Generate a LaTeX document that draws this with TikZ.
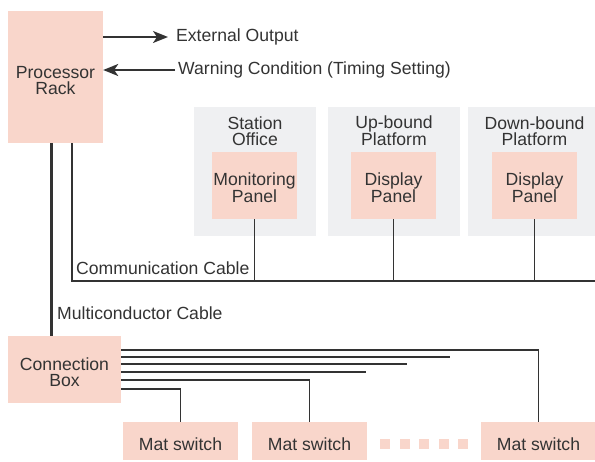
\documentclass[tikz,border=0pt]{standalone}
\usepackage{fontspec}
\setmainfont{Liberation Sans}
\usetikzlibrary{positioning,arrows.meta,calc}
\definecolor{boxpink}{HTML}{F9D6CB}
\definecolor{roomgray}{HTML}{EFF0F2}
\definecolor{wire}{HTML}{333333}
\tikzset{
    % standard arrow tip
    >={Stealth[length=15pt,width=12pt,inset=4pt]},
    % pink equipment box
    unit/.style={
           rectangle,
           fill=boxpink,
           text=wire,
           align=center,
           inner sep=0pt,
           font=\fontsize{17.6}{16}\selectfont,},
    % two lines, set a little low
    twoline/.style={
           text height=34pt,
           text depth=0pt,},
    % gray room box
    room/.style={
           rectangle,
           fill=roomgray,
           inner sep=0pt,},
    % cable
    cable/.style={
           draw=wire,
           line width=1.8pt,},
    % free text
    txt/.style={
           text=wire,
           align=center,
           inner sep=0pt,
           font=\fontsize{17.6}{16}\selectfont,}
}

\begin{document}
\begin{tikzpicture}[x=1pt, y=-1pt]

\useasboundingbox (0,0) rectangle (595,461);

% rooms
\node [room, minimum width=122, minimum height=129] (office) at (255,171.5) {};
\node [room, minimum width=132, minimum height=129] (up)     at (394,171.5) {};
\node [room, minimum width=133, minimum height=129] (down)   at (534.5,171.5) {};

\node [txt] (officet) at (255,131) {Station\\Office};
\node [txt] (upt)     at (394,131) {Up-bound\\Platform};
\node [txt] (downt)   at (534.5,131) {Down-bound\\Platform};

% panels
\node [unit, twoline, minimum width=85, minimum height=67] (monitor) at (254.5,185.5) {Monitoring\\Panel};
\node [unit, twoline, minimum width=85, minimum height=67] (disp1)   at (393.5,185.5) {Display\\Panel};
\node [unit, twoline, minimum width=85, minimum height=67] (disp2)   at (534.5,185.5) {Display\\Panel};

% processor rack and connection box
\node [unit, twoline, minimum width=95, minimum height=132] (rack) at (55.5,77) {Processor\\Rack};
\node [unit, twoline, minimum width=113, minimum height=67] (cbox) at (64.5,369.5) {Connection\\Box};

% mat switches
\node [unit, minimum width=115, minimum height=38, text height=20pt] (mat1) at (180.5,441) {Mat switch};
\node [unit, minimum width=115, minimum height=38, text height=20pt] (mat2) at (309.5,441) {Mat switch};
\node [unit, minimum width=115, minimum height=38, text height=20pt] (mat3) at (538.5,441) {Mat switch};

\foreach \i in {0,...,4}
    \fill [boxpink] (380+\i*19.6,439) rectangle +(10,10);

% in and out
\coordinate (extout) at (168,37);
\coordinate (warnin) at (175,70);
\draw [cable, ->] (rack.east |- extout) -- (extout);
\draw [cable, ->] (warnin) -- (rack.east |- warnin);
\node [txt, anchor=west] (extoutt) at (176,37) {External Output};
\node [txt, anchor=west] (warnint) at (178,70) {Warning Condition (Timing Setting)};

% communication cable
\coordinate (comm) at (72,281);
\coordinate (commend) at (595,281);
\draw [cable] (rack.south -| comm) -- (comm) -- (commend);
\draw [cable] (monitor.south) -- (monitor.south |- comm);
\draw [cable] (disp1.south) -- (disp1.south |- comm);
\draw [cable] (disp2.south) -- (disp2.south |- comm);
\node [txt, anchor=base west] (commt) at (76,274) {Communication Cable};

% multiconductor cable
\draw [cable, line width=3pt] (51,0 |- rack.south) -- (51,0 |- cbox.north);
\node [txt, anchor=west] (multit) at (57,313) {Multiconductor Cable};

% wires to mat switches
\draw [cable] (cbox.east |- 0,350) -| (mat3.north);
\draw [cable] (cbox.east |- 0,357) -- (450,357);
\draw [cable] (cbox.east |- 0,364) -- (407,364);
\draw [cable] (cbox.east |- 0,372) -- (366,372);
\draw [cable] (cbox.east |- 0,380) -| (mat2.north);
\draw [cable] (cbox.east |- 0,389) -| (mat1.north);

\end{tikzpicture}
\end{document}
